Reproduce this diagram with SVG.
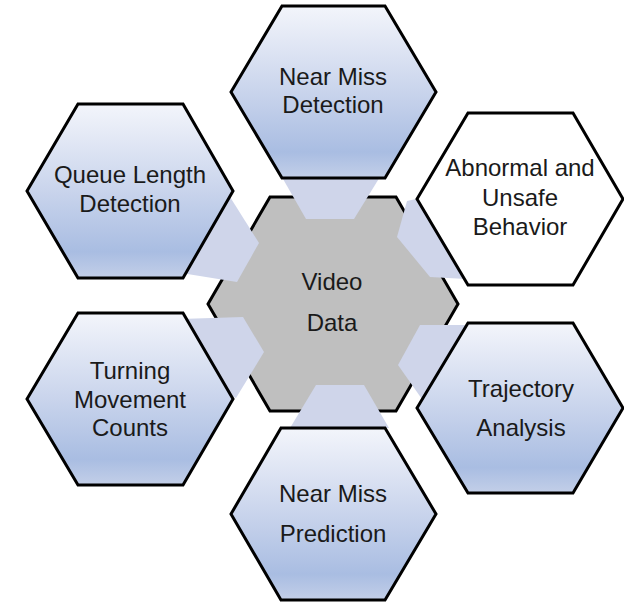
<svg xmlns="http://www.w3.org/2000/svg" width="624" height="602" viewBox="0 0 624 602">
<defs>
<linearGradient id="hexGrad" x1="0" y1="0" x2="0" y2="1">
<stop offset="0" stop-color="#f3f5fb"/>
<stop offset="0.5" stop-color="#c9d4ec"/>
<stop offset="0.85" stop-color="#a9bde2"/>
<stop offset="1" stop-color="#c3cfe8"/>
</linearGradient>
<style>
.hex{fill:url(#hexGrad);stroke:#000;stroke-width:3;stroke-linejoin:miter}
.white{fill:#fff;stroke:#000;stroke-width:3}
.center{fill:#bfbfbf;stroke:#000;stroke-width:3}
.conn{fill:#cfd5ea;stroke:none}
text{font-family:"Liberation Sans",Arial,sans-serif;font-size:24px;fill:#1a1a1a;text-anchor:middle}
</style>
</defs>
<rect width="624" height="602" fill="#fff"/>
<g id="video-data">
<polygon class="center" points="208,304 270,197 396,197 458,304 396,411 270,411"/>
<text x="332" y="290">Video</text>
<text x="332" y="331">Data</text>
</g>
<g id="connectors">
<polygon class="conn" points="279,172 383,172 354,219 306,219"/>
<polygon class="conn" points="316,385 364,385 389,428 290,428"/>
<polygon class="conn" points="220,181 259,243 237,282 175,272 190,200"/>
<polygon class="conn" points="180,319 243,317 264,352 236,398 195,380"/>
<polygon class="conn" points="407,201 397,237 430,277 466,279 480,230 425,197"/>
<polygon class="conn" points="420,325 472,325 440,392 424,402 398,365"/>
</g>
<g id="near-miss-detection">
<polygon class="hex" points="231,92 282,6 385,6 436,92 385,178 282,178"/>
<text x="333" y="85">Near Miss</text>
<text x="333" y="113">Detection</text>
</g>
<g id="abnormal-unsafe-behavior">
<polygon class="white" points="417,199 468,113 573,113 623,199 573,285 468,285"/>
<text x="520" y="176">Abnormal and</text>
<text x="520" y="206">Unsafe</text>
<text x="520" y="235">Behavior</text>
</g>
<g id="queue-length-detection">
<polygon class="hex" points="27,191 78,104 183,104 233,191 183,278 78,278"/>
<text x="130" y="183">Queue Length</text>
<text x="130" y="212">Detection</text>
</g>
<g id="turning-movement-counts">
<polygon class="hex" points="27,399 78,313 183,313 233,399 183,485 78,485"/>
<text x="130" y="379">Turning</text>
<text x="130" y="408">Movement</text>
<text x="130" y="436">Counts</text>
</g>
<g id="trajectory-analysis">
<polygon class="hex" points="417,408 468,323 573,323 623,408 573,493 468,493"/>
<text x="521" y="397">Trajectory</text>
<text x="521" y="436">Analysis</text>
</g>
<g id="near-miss-prediction">
<polygon class="hex" points="231,514 281,428 385,428 436,514 385,600 281,600"/>
<text x="333" y="502">Near Miss</text>
<text x="333" y="542">Prediction</text>
</g>
</svg>
